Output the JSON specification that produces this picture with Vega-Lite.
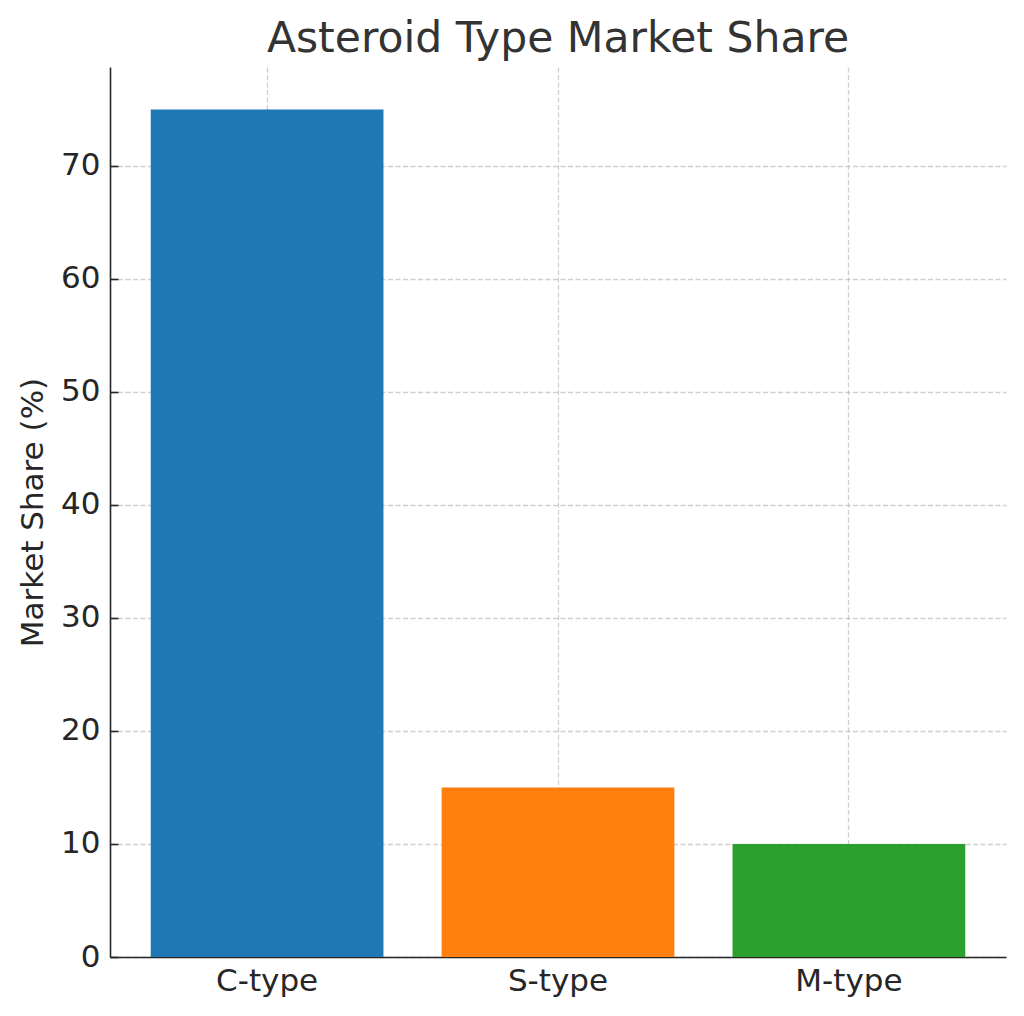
{
  "$schema": "https://vega.github.io/schema/vega-lite/v6.json",
  "autosize": {"type": "none"},
  "padding": {"left": 110, "top": 67, "right": 18, "bottom": 59},
  "width": 896,
  "height": 890,
  "background": "white",
  "title": {
    "text": "Asteroid Type Market Share",
    "fontSize": 42.5,
    "font": "DejaVu Sans",
    "fontWeight": "normal",
    "color": "#333333",
    "anchor": "middle",
    "baseline": "alphabetic",
    "offset": 14,
    "dy": 41
  },
  "config": {
    "view": {"stroke": null},
    "axis": {
      "labelFont": "DejaVu Sans",
      "titleFont": "DejaVu Sans",
      "labelFontSize": 31,
      "titleFontSize": 31,
      "labelColor": "#262626",
      "titleColor": "#262626",
      "titleFontWeight": "normal",
      "domainColor": "#262626",
      "domainWidth": 1.6,
      "tickColor": "#262626",
      "tickWidth": 1.6,
      "tickSize": -8,
      "grid": true,
      "gridColor": "#b0b0b0",
      "gridOpacity": 0.6,
      "gridWidth": 1.3,
      "gridDash": [5, 2.5],
      "zindex": 1
    }
  },
  "data": {
    "values": [
      {"type": "C-type", "share": 75},
      {"type": "S-type", "share": 15},
      {"type": "M-type", "share": 10}
    ]
  },
  "mark": {"type": "bar"},
  "encoding": {
    "x": {
      "field": "type",
      "type": "nominal",
      "sort": null,
      "scale": {"paddingInner": 0.2, "paddingOuter": 0.14},
      "axis": {
        "title": null,
        "labelAngle": 0,
        "labelPadding": 17,
        "bandPosition": 0.5
      }
    },
    "y": {
      "field": "share",
      "type": "quantitative",
      "scale": {"domain": [0, 78.75], "nice": false},
      "axis": {
        "title": "Market Share (%)",
        "values": [0, 10, 20, 30, 40, 50, 60, 70],
        "labelPadding": 18,
        "titlePadding": 11
      }
    },
    "color": {
      "field": "type",
      "type": "nominal",
      "scale": {
        "domain": ["C-type", "S-type", "M-type"],
        "range": ["#1f77b4", "#ff7f0e", "#2ca02c"]
      },
      "legend": null
    }
  }
}
